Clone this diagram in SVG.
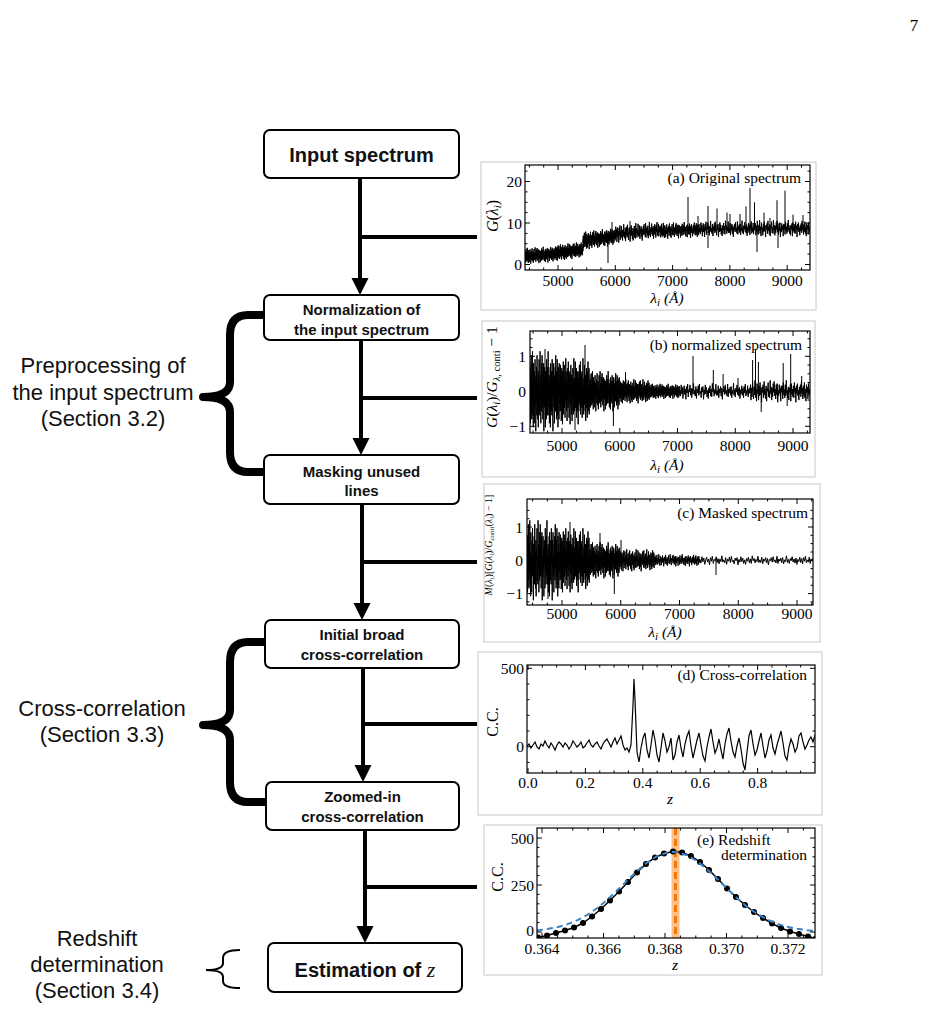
<svg xmlns="http://www.w3.org/2000/svg" xmlns:xlink="http://www.w3.org/1999/xlink" width="930" height="1016" viewBox="0 0 930 1016">
<style>
.box{fill:#fff;stroke:#000;stroke-width:2}
.bt{font-family:"Liberation Sans",Arial,sans-serif;font-weight:bold;text-anchor:middle;fill:#111}
.lbl{font-family:"Liberation Sans",Arial,sans-serif;font-size:22px;text-anchor:middle;fill:#111}
.conn{stroke:#000;stroke-width:4;fill:none}
.brace{stroke:#000;stroke-width:8;fill:none;stroke-linejoin:round}
.frame{fill:#fff;stroke:#c8c8c8;stroke-width:1}
.ax{fill:none;stroke:#000;stroke-width:1.2}
.tick{fill:none;stroke:#000;stroke-width:1}
.tk{font-family:"Liberation Serif","Times New Roman",serif;font-size:15.5px;fill:#000}
.end{text-anchor:end}
.mid{text-anchor:middle}
.it{font-style:italic}
.sp{fill:none;stroke:#000;stroke-width:1}
</style>
<defs>
<polyline id="nz" fill="none" stroke="#000" stroke-width="1" vector-effect="non-scaling-stroke" points="0,2 1,-6 2,8 3,-3 4,5 5,-9 6,1 7,7 8,-4 9,3 10,-10 11,6 12,-2 13,9 14,-7 15,2 16,-1 17,8 18,-5 19,4 20,-8 21,3 22,-3 23,10 24,-4 25,1 26,-6 27,6 28,-9 29,3 30,-2 31,7 32,-5 33,9 34,-3 35,0 36,-8 37,5 38,-1 39,6 40,-10 41,2 42,-4 43,8 44,-3 45,5 46,-7 47,1 48,-9 49,4 50,-2 51,7 52,-6 53,3 54,-7 55,10 56,-1 57,4 58,-6 59,2 60,-3 61,9 62,-5 63,1 64,-5 65,7 66,-8 67,3 68,-2 69,6 70,-6 71,4 72,-10 73,2 74,-1 75,6 76,-4 77,8 78,-3 79,1 80,-6 81,9 82,-7 83,3 84,-2 85,5 86,-5 87,6 88,-8 89,1 90,-3 91,10 92,-5 93,2 94,-7 95,4 96,-1 97,8 98,-4 99,3 100,-6 101,5 102,-9 103,2 104,-3 105,7 106,-5 107,4 108,-8 109,6 110,-2 111,9 112,-6 113,1 114,-4 115,7 116,-7 117,3 118,-2 119,5"/>
<clipPath id="clA"><rect x="525" y="165" width="285" height="105"/></clipPath>
<clipPath id="clB"><rect x="530" y="331" width="280" height="102"/></clipPath>
<clipPath id="clC"><rect x="527" y="499" width="286" height="106"/></clipPath>
<clipPath id="clD"><rect x="527" y="665" width="288" height="108"/></clipPath>
<clipPath id="clE"><rect x="537" y="828" width="278" height="110"/></clipPath>
<marker id="dot" viewBox="-4 -4 8 8" refX="0" refY="0" markerWidth="7" markerHeight="7" markerUnits="userSpaceOnUse"><circle r="3.5" fill="#000"/></marker>
</defs>

<text x="914" y="31" font-family="Liberation Serif,serif" font-size="17" text-anchor="middle">7</text>

<!-- connectors -->
<g id="connectors">
<path class="conn" d="M360,178V279 M360,237H477 M361,340V439 M361,398H477 M362,504V604 M362,562H477 M363,668V766 M363,724H477 M365,830V927 M365,887H477"/>
<path d="M351.5,278H368.5L360,295Z M352.5,438H369.5L361,455Z M353.5,603H370.5L362,620Z M354.5,765H371.5L363,782Z M356.5,926H373.5L365,943Z" fill="#000"/>
<path class="brace" d="M265,315H248Q230,315 230,335V382Q230,397 203,397Q230,397 230,412V452Q230,472 248,472H265"/>
<path class="brace" d="M265,642H248Q230,642 230,662V710Q230,725 203,725Q230,725 230,740V782Q230,802 248,802H265"/>
<path d="M240,950Q223,950 223,958V963Q223,970 206,970Q223,970 223,977V981Q223,988 240,988" fill="none" stroke="#000" stroke-width="2"/>
</g>

<!-- nodes -->
<g id="node-input"><rect class="box" x="264" y="130" width="195" height="48" rx="6"/><text class="bt" x="361.5" y="162" font-size="20">Input spectrum</text></g>
<g id="node-normalization"><rect class="box" x="264" y="295" width="195" height="45" rx="6"/><text class="bt" x="361.5" y="315" font-size="15">Normalization of</text><text class="bt" x="361.5" y="335" font-size="15">the input spectrum</text></g>
<g id="node-masking"><rect class="box" x="264" y="455" width="195" height="49" rx="6"/><text class="bt" x="361.5" y="477" font-size="15">Masking unused</text><text class="bt" x="361.5" y="496" font-size="15">lines</text></g>
<g id="node-broad"><rect class="box" x="265" y="620" width="194" height="48" rx="6"/><text class="bt" x="362" y="640" font-size="15">Initial broad</text><text class="bt" x="362" y="660" font-size="15">cross-correlation</text></g>
<g id="node-zoomed"><rect class="box" x="266" y="782" width="193" height="48" rx="6"/><text class="bt" x="362.5" y="802" font-size="15">Zoomed-in</text><text class="bt" x="362.5" y="822" font-size="15">cross-correlation</text></g>
<g id="node-estimation"><rect class="box" x="268" y="943" width="194" height="49" rx="6"/><text class="bt" x="365" y="977" font-size="20">Estimation of <tspan font-family="Liberation Serif,serif" font-style="italic" font-weight="normal" font-size="22">z</tspan></text></g>

<!-- side labels -->
<g id="label-preprocessing"><text class="lbl" x="103" y="373">Preprocessing of</text><text class="lbl" x="103" y="400">the input spectrum</text><text class="lbl" x="103" y="426">(Section 3.2)</text></g>
<g id="label-crosscorr"><text class="lbl" x="102" y="716">Cross-correlation</text><text class="lbl" x="102" y="742">(Section 3.3)</text></g>
<g id="label-redshift"><text class="lbl" x="97" y="946">Redshift</text><text class="lbl" x="97" y="972">determination</text><text class="lbl" x="97" y="998">(Section 3.4)</text></g>

<!-- panel a -->
<g id="panel-a">
<rect class="frame" x="481" y="162" width="335" height="148"/>
<g clip-path="url(#clA)">
<use href="#nz" transform="translate(525,256) skewY(-3.81) scale(0.252,0.8)"/>
<use href="#nz" transform="translate(555,253) skewY(-6.9) scale(0.235,-0.8)"/>
<path class="sp" d="M583,251V239"/>
<use href="#nz" transform="translate(583,241) skewY(-8.4) scale(0.269,0.9)"/>
<use href="#nz" transform="translate(615,234) skewY(-5.1) scale(0.378,-0.9)"/>
<use href="#nz" transform="translate(660,231) skewY(-2.1) scale(0.336,0.8)"/>
<use href="#nz" transform="translate(700,229) skewY(-0.5) scale(0.462,-0.8)"/>
<use href="#nz" transform="translate(755,228.5) scale(0.462,0.85)"/>
<path class="sp" d="M688,229V197M708,229V206M708,231V248M717,229V208.5M727,229V212.6M730,229V214M746,229V206.4M750,229V188M754.5,229V202.3M757,229V252M764,229V212.6M777,229V200.2M778,229V248M785,229V190.6M793,229V214.7M630,233V221M608,238V263M698,229V216M740,229V214M770,229V218M803,229V215M612,236V222"/>
</g>
<rect class="ax" x="525" y="165" width="285" height="105"/>
<path id="tA1" class="tick" d="M558,270v-5M615.3,270v-5M672.6,270v-5M729.9,270v-5M787.2,270v-5M529.4,270v-2.5M543.7,270v-2.5M572.3,270v-2.5M586.7,270v-2.5M601,270v-2.5M629.6,270v-2.5M644,270v-2.5M658.3,270v-2.5M686.9,270v-2.5M701.3,270v-2.5M715.6,270v-2.5M744.2,270v-2.5M758.6,270v-2.5M772.9,270v-2.5M801.5,270v-2.5"/>
<use href="#tA1" transform="matrix(1,0,0,-1,0,435)"/>
<path id="tA2" class="tick" d="M525,264.5h5M525,223h5M525,181.5h5M525,254.1h2.5M525,243.75h2.5M525,233.4h2.5M525,212.6h2.5M525,202.25h2.5M525,191.9h2.5M525,171.1h2.5"/>
<use href="#tA2" transform="matrix(-1,0,0,1,1335,0)"/>
<text class="tk end" x="522" y="270">0</text><text class="tk end" x="522" y="228.5">10</text><text class="tk end" x="522" y="187">20</text>
<text class="tk mid" x="558" y="285.5">5000</text><text class="tk mid" x="615.3" y="285.5">6000</text><text class="tk mid" x="672.6" y="285.5">7000</text><text class="tk mid" x="729.9" y="285.5">8000</text><text class="tk mid" x="787.2" y="285.5">9000</text>
<text class="tk end" x="801" y="183">(a) Original spectrum</text>
<text class="tk mid" x="667" y="303"><tspan class="it">λ</tspan><tspan class="it" font-size="11" dy="3">i</tspan><tspan class="it" dy="-3"> (Å)</tspan></text>
<text class="tk mid" font-size="16" style="font-size:16px" transform="translate(498,216) rotate(-90)"><tspan class="it">G</tspan>(<tspan class="it">λ</tspan><tspan class="it" font-size="11" dy="3">i</tspan><tspan dy="-3">)</tspan></text>
</g>

<!-- panel b -->
<g id="panel-b">
<rect class="frame" x="482" y="321" width="333" height="156"/>
<g clip-path="url(#clB)">
<use href="#nz" transform="translate(530,391.3) scale(0.252,4)"/>
<use href="#nz" transform="translate(560,391.3) scale(0.252,-3.3)"/>
<use href="#nz" transform="translate(590,391.3) scale(0.252,2)"/>
<use href="#nz" transform="translate(620,391.3) scale(0.252,-1.2)"/>
<use href="#nz" transform="translate(650,391.3) scale(0.252,0.75)"/>
<use href="#nz" transform="translate(680,391.3) scale(0.588,-0.8)"/>
<use href="#nz" transform="translate(750,391.3) scale(0.504,1.1)"/>
<path class="sp" d="M613.4,391V426M693,391V356M713.3,391V370M723.1,391V374M738,391V378M752.6,391V360M755.5,391V349M758.4,391V362M761.2,391V412M783.2,391V363M787.2,391V406M790.7,391V354M801.7,391V376M625.5,391V372M585,391V345M545,391V349M575,391V430"/>
</g>
<rect class="ax" x="530" y="331" width="280" height="102"/>
<path id="tB1" class="tick" d="M562,433v-5M619.75,433v-5M677.5,433v-5M735.25,433v-5M793,433v-5M533.1,433v-2.5M547.6,433v-2.5M576.4,433v-2.5M590.9,433v-2.5M605.3,433v-2.5M634.2,433v-2.5M648.6,433v-2.5M663.1,433v-2.5M691.9,433v-2.5M706.4,433v-2.5M720.8,433v-2.5M749.7,433v-2.5M764.1,433v-2.5M778.6,433v-2.5M807.4,433v-2.5"/>
<use href="#tB1" transform="matrix(1,0,0,-1,0,764)"/>
<path id="tB2" class="tick" d="M530,356.3h5M530,391.3h5M530,426.3h5M530,338.8h2.5M530,347.55h2.5M530,365.05h2.5M530,373.8h2.5M530,382.55h2.5M530,400.05h2.5M530,408.8h2.5M530,417.55h2.5"/>
<use href="#tB2" transform="matrix(-1,0,0,1,1340,0)"/>
<text class="tk end" x="526" y="361.8">1</text><text class="tk end" x="526" y="396.8">0</text><text class="tk end" x="526" y="431.8">−1</text>
<text class="tk mid" x="562" y="451">5000</text><text class="tk mid" x="619.75" y="451">6000</text><text class="tk mid" x="677.5" y="451">7000</text><text class="tk mid" x="735.25" y="451">8000</text><text class="tk mid" x="793" y="451">9000</text>
<text class="tk end" x="802" y="350">(b) normalized spectrum</text>
<text class="tk mid" x="667" y="470"><tspan class="it">λ</tspan><tspan class="it" font-size="11" dy="3">i</tspan><tspan class="it" dy="-3"> (Å)</tspan></text>
<text class="tk mid" transform="translate(497,377) rotate(-90)"><tspan class="it">G</tspan>(<tspan class="it">λ</tspan><tspan class="it" font-size="10.5" dy="3">i</tspan><tspan dy="-3">)/</tspan><tspan class="it">G</tspan><tspan font-size="10.5" dy="3"><tspan class="it">λ</tspan>, conti</tspan><tspan dy="-3"> − 1</tspan></text>
</g>

<!-- panel c -->
<g id="panel-c">
<rect class="frame" x="484" y="484" width="336" height="158"/>
<g clip-path="url(#clC)">
<use href="#nz" transform="translate(527,560.3) scale(0.277,4)"/>
<use href="#nz" transform="translate(560,560.3) scale(0.252,-3.2)"/>
<use href="#nz" transform="translate(590,560.3) scale(0.252,1.8)"/>
<use href="#nz" transform="translate(620,560.3) scale(0.294,-1.1)"/>
<use href="#nz" transform="translate(655,560.3) scale(0.378,0.6)"/>
<use href="#nz" transform="translate(700,560.3) scale(0.95,-0.45)"/>
<path class="sp" d="M614.3,560V594M621,560V540M716,560V575M600,560V533M570,560V522M548,560V599"/>
</g>
<rect class="ax" x="527" y="499" width="286" height="106"/>
<path id="tC1" class="tick" d="M562,605v-5M620.75,605v-5M679.5,605v-5M738.25,605v-5M797,605v-5M532.6,605v-2.5M547.3,605v-2.5M576.7,605v-2.5M591.4,605v-2.5M606.1,605v-2.5M635.4,605v-2.5M650.1,605v-2.5M664.8,605v-2.5M694.2,605v-2.5M708.9,605v-2.5M723.6,605v-2.5M752.9,605v-2.5M767.6,605v-2.5M782.3,605v-2.5M811.7,605v-2.5"/>
<use href="#tC1" transform="matrix(1,0,0,-1,0,1104)"/>
<path id="tC2" class="tick" d="M527,527h5M527,560.3h5M527,593.6h5M527,510.4h2.5M527,518.7h2.5M527,535.3h2.5M527,543.6h2.5M527,552h2.5M527,568.6h2.5M527,577h2.5M527,585.3h2.5M527,601.9h2.5"/>
<use href="#tC2" transform="matrix(-1,0,0,1,1340,0)"/>
<text class="tk end" x="523" y="532.5">1</text><text class="tk end" x="523" y="565.8">0</text><text class="tk end" x="523" y="599.1">−1</text>
<text class="tk mid" x="562" y="619">5000</text><text class="tk mid" x="620.75" y="619">6000</text><text class="tk mid" x="679.5" y="619">7000</text><text class="tk mid" x="738.25" y="619">8000</text><text class="tk mid" x="797" y="619">9000</text>
<text class="tk end" x="808" y="518">(c) Masked spectrum</text>
<text class="tk mid" x="665" y="637"><tspan class="it">λ</tspan><tspan class="it" font-size="11" dy="3">i</tspan><tspan class="it" dy="-3"> (Å)</tspan></text>
<text class="tk mid" font-size="10" style="font-size:10px" transform="translate(492,545) rotate(-90)"><tspan class="it">M</tspan>(<tspan class="it">λ</tspan><tspan class="it" font-size="7" dy="2">i</tspan><tspan dy="-2">)[</tspan><tspan class="it">G</tspan>(<tspan class="it">λ</tspan><tspan class="it" font-size="7" dy="2">i</tspan><tspan dy="-2">)/</tspan><tspan class="it">G</tspan><tspan font-size="7" dy="2">conti</tspan><tspan dy="-2">(</tspan><tspan class="it">λ</tspan><tspan class="it" font-size="7" dy="2">i</tspan><tspan dy="-2">) − 1]</tspan></text>
</g>

<!-- panel d -->
<g id="panel-d">
<rect class="frame" x="478" y="652" width="344" height="163"/>
<g clip-path="url(#clD)">
<polyline fill="none" stroke="#000" stroke-width="1.2" vector-effect="non-scaling-stroke" transform="translate(527,0) scale(2,1)" points="0,746 1,744 2,748 3,745 4,742 5,747 6,749 7,744 8,746 9,741 10,745 11,748 12,743 13,746 14,750 15,745 16,742 17,744 18,747 19,743 20,745 21,749 22,746 23,741 24,744 25,747 26,745 27,742 28,748 29,746 30,743 31,740 32,745 33,747 34,744 35,742 36,746 37,749 38,744 39,741 40,739 41,743 42,747 43,742 44,738 45,744 46,740 47,736 48,745 49,750 50,748 51,752 52,745 53,705 53.5,679 54,700 55,752 56,762 57,748 58,738 59,733 60,750 61,758 62,745 63,730 64,740 65,755 66,762 67,748 68,733 69,741 70,752 71,747 72,738 73,760 74,755 75,742 76,735 77,748 78,757 79,744 80,736 81,731 82,746 83,758 84,749 85,740 86,733 87,745 88,756 89,761 90,747 91,737 92,729 93,742 94,753 95,748 96,739 97,750 98,759 99,744 100,734 101,728 102,741 103,752 104,757 105,746 106,738 107,749 108,763 109,770 110,752 111,736 112,730 113,744 114,755 115,750 116,741 117,733 118,746 119,758 120,751 121,740 122,735 123,748 124,754 125,745 126,738 127,731 128,743 129,756 130,760 131,747 132,739 133,744 134,752 135,748 136,736 137,733 138,742 139,749 140,745 141,740 142,737 143,742 144,735"/>
</g>
<rect class="ax" x="527" y="665" width="288" height="108"/>
<path id="tD1" class="tick" d="M528,773v-5M585.4,773v-5M642.8,773v-5M700.2,773v-5M757.6,773v-5M542.35,773v-2.5M556.7,773v-2.5M571.05,773v-2.5M599.75,773v-2.5M614.1,773v-2.5M628.45,773v-2.5M657.15,773v-2.5M671.5,773v-2.5M685.85,773v-2.5M714.55,773v-2.5M728.9,773v-2.5M743.25,773v-2.5M771.95,773v-2.5M786.3,773v-2.5M800.65,773v-2.5"/>
<use href="#tD1" transform="matrix(1,0,0,-1,0,1438)"/>
<path id="tD2" class="tick" d="M527,746.7h5M527,668.3h5M527,762.4h2.5M527,731h2.5M527,715.3h2.5M527,699.7h2.5M527,684h2.5"/>
<use href="#tD2" transform="matrix(-1,0,0,1,1342,0)"/>
<text class="tk end" x="524" y="673.8">500</text><text class="tk end" x="524" y="752.2">0</text>
<text class="tk mid" x="528" y="788">0.0</text><text class="tk mid" x="585.4" y="788">0.2</text><text class="tk mid" x="642.8" y="788">0.4</text><text class="tk mid" x="700.2" y="788">0.6</text><text class="tk mid" x="757.6" y="788">0.8</text>
<text class="tk end" x="807" y="680">(d) Cross-correlation</text>
<text class="tk mid it" x="670" y="804">z</text>
<text class="tk mid" font-size="16" style="font-size:16px" transform="translate(498,722) rotate(-90)">C.C.</text>
</g>

<!-- panel e -->
<g id="panel-e">
<rect class="frame" x="484" y="825" width="338" height="150"/>
<g clip-path="url(#clE)">
<rect x="671.5" y="828" width="8" height="110" fill="#ff7f0e" opacity="0.5"/>
<line x1="675.5" y1="828" x2="675.5" y2="938" stroke="#f07a10" stroke-width="3" stroke-dasharray="7,4"/>
<polyline fill="none" stroke="#000" stroke-width="1.5" marker-start="url(#dot)" marker-mid="url(#dot)" marker-end="url(#dot)" points="538,937.5 547,935.5 556,933 565,930.5 574,927.5 583,923 592,916.5 601,909 610,900.5 619,891.5 628,882 637,872.5 646,864 655,857.5 664,853.5 673,851.5 682,852.5 691,856 700,862 709,870 718,879 727,888.5 736,897 745,905 754,912 763,918 772,923.5 781,928 790,931.5 799,934 808,936.5 816,938.5"/>
<polyline fill="none" stroke="#3a83c9" stroke-width="2" stroke-dasharray="6,4" points="537,930.4 547,929.1 557,927.3 567,924.4 577,920.4 587,915.1 597,908.2 607,900 617,890.6 627,880.7 637,871.1 647,862.6 657,856.2 667,852.6 673,852 677,852.3 687,855.2 697,861.1 707,869.2 717,878.7 727,888.6 737,898.1 747,906.7 757,913.8 767,919.5 777,923.7 787,926.8 797,928.8 807,930.2 815,930.8"/>
</g>
<rect class="ax" x="537" y="828" width="278" height="110"/>
<path id="tE1" class="tick" d="M542,938v-5M603.5,938v-5M665,938v-5M726.5,938v-5M788,938v-5M557.4,938v-2.5M572.8,938v-2.5M588.1,938v-2.5M618.9,938v-2.5M634.3,938v-2.5M649.6,938v-2.5M680.4,938v-2.5M695.8,938v-2.5M711.1,938v-2.5M741.9,938v-2.5M757.3,938v-2.5M772.6,938v-2.5M803.4,938v-2.5"/>
<use href="#tE1" transform="matrix(1,0,0,-1,0,1766)"/>
<path id="tE2" class="tick" d="M537,932h5M537,885h5M537,838h5M537,922.6h2.5M537,913.2h2.5M537,903.8h2.5M537,894.4h2.5M537,875.6h2.5M537,866.2h2.5M537,856.8h2.5M537,847.4h2.5"/>
<use href="#tE2" transform="matrix(-1,0,0,1,1352,0)"/>
<text class="tk end" x="534" y="843.5">500</text><text class="tk end" x="534" y="890.5">250</text><text class="tk end" x="534" y="935.5">0</text>
<text class="tk mid" x="542" y="953.5">0.364</text><text class="tk mid" x="603.5" y="953.5">0.366</text><text class="tk mid" x="665" y="953.5">0.368</text><text class="tk mid" x="726.5" y="953.5">0.370</text><text class="tk mid" x="788" y="953.5">0.372</text>
<text class="tk" x="697" y="845">(e) Redshift</text>
<text class="tk end" x="807" y="860">determination</text>
<text class="tk mid it" x="675" y="970">z</text>
<text class="tk mid" font-size="16" style="font-size:16px" transform="translate(503,877) rotate(-90)">C.C.</text>
</g>
</svg>
